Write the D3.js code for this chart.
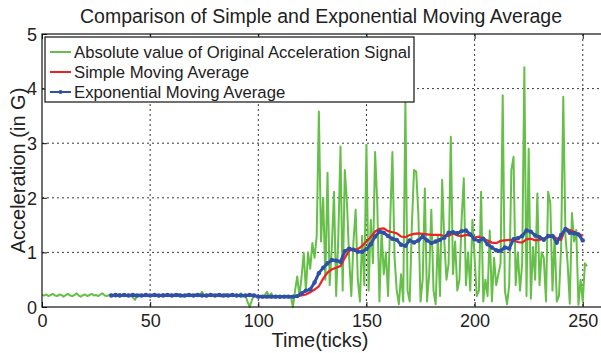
<!DOCTYPE html>
<html><head><meta charset="utf-8">
<script src="https://cdn.jsdelivr.net/npm/d3@7"></script>
<style>body{margin:0;background:#fff}svg{display:block}text{font-family:"Liberation Sans",Arial,sans-serif;fill:#222}</style>
</head><body><svg id="c" width="601" height="353"></svg>
<script>
const title = "Comparison of Simple and Exponential Moving Average";
const xLabel = "Time(ticks)";
const yLabel = "Acceleration (in G)";
const xTicks = [0, 50, 100, 150, 200, 250];
const yTicks = [0, 1, 2, 3, 4, 5];
const seriesNames = ["Absolute value of Original Acceleration Signal", "Simple Moving Average", "Exponential Moving Average"];

// original signal, t = 0..252
const signal = [
0.22,0.21,0.23,0.20,0.22,0.24,0.21,0.20,0.23,0.22,
0.19,0.22,0.24,0.21,0.20,0.22,0.25,0.21,0.19,0.22,
0.23,0.20,0.22,0.24,0.21,0.22,0.20,0.23,0.25,0.21,
0.20,0.22,0.23,0.21,0.19,0.22,0.24,0.20,0.22,0.21,
0.23,0.20,0.18,0.13,0.21,0.23,0.22,0.20,0.24,0.21,
0.22,0.20,0.23,0.21,0.19,0.22,0.24,0.21,0.20,0.22,
0.23,0.21,0.20,0.24,0.22,0.19,0.21,0.23,0.22,0.20,
0.21,0.23,0.20,0.22,0.28,0.21,0.19,0.22,0.24,0.20,
0.21,0.23,0.22,0.19,0.21,0.24,0.22,0.20,0.23,0.21,
0.20,0.22,0.25,0.19,0.21,0.10,0.00,0.12,0.22,0.20,
0.19,0.21,0.18,0.22,0.28,0.20,0.25,0.18,0.21,0.19,
0.17,0.20,0.18,0.21,0.19,0.20,0.00,0.30,0.56,0.20,
0.55,0.99,0.30,1.00,0.70,1.17,0.90,1.30,3.58,1.20,
2.00,0.50,2.46,0.40,1.10,2.11,0.20,1.30,2.94,0.30,
2.51,1.90,0.90,0.20,1.20,1.78,0.50,0.10,1.30,0.40,
2.97,0.30,1.60,0.80,2.84,1.90,0.10,1.40,0.60,1.00,
0.20,1.60,2.84,0.90,0.30,0.05,0.60,0.10,3.76,0.30,
0.10,1.50,2.51,2.48,1.70,0.10,0.50,2.17,0.10,0.60,
1.78,0.30,0.05,1.30,0.20,2.33,1.20,0.50,0.80,3.12,
0.60,1.20,0.30,0.50,1.60,2.36,0.40,1.00,0.30,1.60,
0.90,0.20,0.30,2.11,0.10,0.50,0.20,1.40,0.10,0.90,
0.40,0.60,0.80,3.88,0.30,0.05,0.40,2.51,2.75,0.40,
1.00,0.30,0.80,4.39,0.20,2.90,0.15,1.10,0.50,2.08,
0.40,1.00,0.90,0.10,2.11,1.90,0.30,1.30,0.10,0.20,
1.10,3.85,1.30,0.80,0.06,1.72,1.20,1.41,0.04,0.50,
0.10,0.80,0.75];

// smoothed series sampled at t = 32, 34, ..., 250
const smaValues = [
0.21,0.21,0.21,0.21,0.21,0.21,0.21,0.21,0.21,0.21,
0.21,0.21,0.21,0.21,0.21,0.21,0.21,0.21,0.21,0.21,
0.21,0.21,0.21,0.21,0.21,0.21,0.21,0.21,0.21,0.21,
0.21,0.21,0.21,0.21,0.20,0.20,0.20,0.19,0.19,0.19,
0.19,0.19,0.19,
0.20,0.21,0.23,0.27,0.32,0.38,0.52,0.63,0.69,0.72,
0.75,0.90,1.03,1.05,1.06,1.12,1.20,1.28,1.38,1.43,
1.44,1.39,1.37,1.35,1.29,1.28,1.32,1.34,1.35,1.34,
1.33,1.32,1.32,1.32,1.30,1.30,1.35,1.31,1.30,1.32,
1.31,1.27,1.29,1.25,1.22,1.18,1.17,1.21,1.22,1.23,
1.22,1.19,1.18,1.24,1.25,1.22,1.23,1.26,1.28,1.29,
1.26,1.23,1.44,1.41,1.38,1.34,1.30];
const emaValues = [
0.21,0.22,0.21,0.22,0.21,0.22,0.21,0.21,0.22,0.21,
0.22,0.21,0.21,0.22,0.21,0.22,0.21,0.21,0.22,0.21,
0.22,0.21,0.21,0.22,0.21,0.22,0.21,0.21,0.22,0.21,
0.21,0.21,0.22,0.21,0.19,0.19,0.19,0.19,0.19,0.19,
0.19,0.19,0.19,
0.20,0.25,0.30,0.32,0.45,0.62,0.72,0.80,0.86,0.85,
0.83,1.02,1.07,1.05,1.01,1.01,1.06,1.15,1.29,1.38,
1.36,1.30,1.25,1.23,1.14,1.12,1.22,1.18,1.22,1.29,
1.22,1.17,1.20,1.23,1.27,1.36,1.37,1.35,1.39,1.40,
1.33,1.24,1.21,1.25,1.15,1.09,1.04,1.03,1.09,1.07,
1.24,1.26,1.30,1.40,1.38,1.31,1.28,1.23,1.30,1.30,
1.18,1.32,1.43,1.36,1.35,1.33,1.22];
const smoothStart = 32, smoothStep = 2;

const colors = {signal: "#66bf48", sma: "#ec2227", ema: "#3050a8"};

const svg = d3.select("#c");
const m = {l: 42, t: 34, b: 307};
const x = d3.scaleLinear().domain([0, 260]).range([m.l, m.l + 260 * 2.163]);
const y = d3.scaleLinear().domain([0, 5]).range([m.b, m.t]);
const x0 = x.range()[0], x1 = x.range()[1];

// grid
const grid = svg.append("g").attr("stroke", "#222").attr("stroke-width", 0.9).attr("stroke-dasharray", "2,3");
xTicks.filter(d => d > 0).forEach(d => grid.append("line").attr("x1", x(d)).attr("x2", x(d)).attr("y1", m.t).attr("y2", m.b));
yTicks.filter(d => d > 0 && d < 5).forEach(d => grid.append("line").attr("x1", x0).attr("x2", x1).attr("y1", y(d)).attr("y2", y(d)));

svg.append("clipPath").attr("id", "pc").append("rect").attr("x", x0).attr("y", m.t - 2).attr("width", x1 - x0).attr("height", m.b - m.t + 4);
const plot = svg.append("g").attr("clip-path", "url(#pc)");

const line = d3.line().x(d => x(d[0])).y(d => y(d[1]));
const sigData = signal.map((v, i) => [i, v]);
const smaData = smaValues.map((v, i) => [smoothStart + i * smoothStep, v]);
const emaData = emaValues.map((v, i) => [smoothStart + i * smoothStep, v]);

plot.append("path").datum(sigData).attr("d", line).attr("fill", "none").attr("stroke", colors.signal).attr("stroke-width", 2).attr("stroke-linejoin", "round");
plot.append("path").datum(smaData).attr("d", line).attr("fill", "none").attr("stroke", colors.sma).attr("stroke-width", 2.2);
plot.append("path").datum(emaData).attr("d", line).attr("fill", "none").attr("stroke", colors.ema).attr("stroke-width", 3);
plot.selectAll("circle.ema").data(emaData).join("circle").attr("class", "ema").attr("cx", d => x(d[0])).attr("cy", d => y(d[1])).attr("r", 2.2).attr("fill", colors.ema);

// frame
svg.append("rect").attr("x", x0).attr("y", m.t).attr("width", x1 - x0).attr("height", m.b - m.t).attr("fill", "none").attr("stroke", "#111").attr("stroke-width", 1.2);

// axes (inward ticks)
const fs = "18px";
const xb = svg.append("g").attr("transform", `translate(0,${m.b})`)
  .call(d3.axisBottom(x).tickValues(xTicks).tickSize(-5).tickPadding(7).tickFormat(d3.format("d")));
const xt = svg.append("g").attr("transform", `translate(0,${m.t})`)
  .call(d3.axisTop(x).tickValues(xTicks).tickSize(-5).tickFormat(""));
const yl = svg.append("g").attr("transform", `translate(${x0},0)`)
  .call(d3.axisLeft(y).tickValues(yTicks).tickSize(-5).tickPadding(5).tickFormat(d3.format("d")));
[xb, xt, yl].forEach(g => {
  g.select(".domain").remove();
  g.selectAll(".tick line").attr("stroke", "#111");
  g.selectAll(".tick text").attr("font-size", fs).attr("fill", "#222").style("font-family", '"Liberation Sans",Arial,sans-serif');
});
yl.selectAll(".tick text").attr("dy", "0.35em");

// titles
svg.append("text").attr("x", 321).attr("y", 23).attr("text-anchor", "middle").attr("font-size", "19.5px").text(title);
svg.append("text").attr("x", 320).attr("y", 347).attr("text-anchor", "middle").attr("font-size", "20px").text(xLabel);
svg.append("text").attr("transform", `translate(25,${(m.t + m.b) / 2}) rotate(-90)`).attr("text-anchor", "middle").attr("font-size", "20px").text(yLabel);

// legend
const lg = svg.append("g");
lg.append("rect").attr("x", 45).attr("y", 37).attr("width", 369).attr("height", 65).attr("fill", "#fff").attr("stroke", "#111").attr("stroke-width", 1.2);
const lcol = [colors.signal, colors.sma, colors.ema];
seriesNames.forEach((n, i) => {
  const yy = 52 + i * 20;
  lg.append("line").attr("x1", 50).attr("x2", 71).attr("y1", yy).attr("y2", yy).attr("stroke", lcol[i]).attr("stroke-width", 2);
  if (i === 2) lg.append("circle").attr("cx", 60.5).attr("cy", yy).attr("r", 2).attr("fill", lcol[i]);
  lg.append("text").attr("x", 74).attr("y", yy).attr("dy", "0.35em").attr("font-size", "16.7px").text(n);
});
</script></body></html>
